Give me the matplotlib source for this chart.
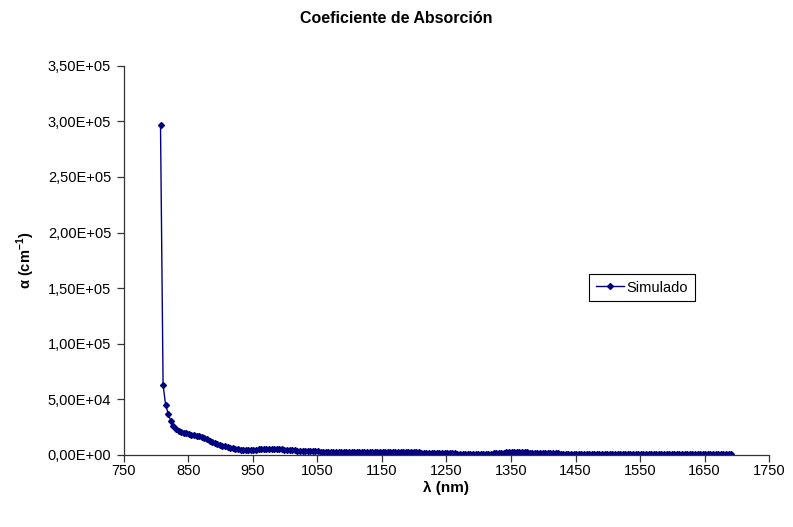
import numpy as np
import matplotlib
matplotlib.use('Agg')
import matplotlib.pyplot as plt
from matplotlib.ticker import FuncFormatter, MultipleLocator

plt.rcParams['font.family'] = ['Liberation Sans', 'DejaVu Sans']
plt.rcParams['mathtext.fontset'] = 'custom'
plt.rcParams['mathtext.rm'] = 'Liberation Sans'
plt.rcParams['mathtext.bf'] = 'Liberation Sans:bold'

# wavelength grid (nm), 4 nm steps
wavelength = np.arange(807, 1692, 4)

# absorption coefficient (cm^-1)
alpha = [
    297000, 63000, 44500, 37000, 30500, 26000, 23500, 21500, 20500, 19800,
    19200, 18700, 18200, 17700, 17200, 16700, 16100, 15000, 13800, 12500,
    11400, 10500, 9700, 8900, 8200, 7500, 6900, 6300, 5800, 5300,
    4900, 4500, 4200, 4000, 3900, 3900, 4100, 4600, 5100, 5300,
    5400, 5400, 5400, 5300, 5300, 5200, 5100, 4900, 4600, 4300,
    4100, 4000, 3900, 3800, 3700, 3600, 3500, 3400, 3300, 3200,
    3100, 3000, 2950,
    # 1059 - 1207
    2900, 2900, 2880, 2870, 2860, 2850, 2840, 2830, 2820, 2800,
    2790, 2780, 2770, 2760, 2750, 2740, 2730, 2720, 2700, 2690,
    2680, 2670, 2660, 2650, 2640, 2620, 2600, 2590, 2580, 2560,
    2550, 2530, 2510, 2500, 2480, 2460, 2430, 2400,
    # 1211 - 1263
    1350, 1340, 1330, 1320, 1310, 1300, 1300, 1290, 1280, 1270,
    1260, 1250, 1240, 1230,
    # 1267 - 1319
    420, 410, 400, 400, 390, 380, 380, 370, 370, 360,
    360, 350, 350, 340,
    # 1323 - 1423
    2050, 2060, 2060, 2070, 2070, 2080, 2080, 2080, 2090, 2090,
    2090, 2090, 2080, 2080, 2070, 2070, 2060, 2050, 2040, 2030,
    2020, 2010, 2000, 1990, 1970, 1950,
    # 1427 - 1691
    900, 890, 880, 880, 870, 870, 860, 860, 850, 850,
    850, 840, 840, 840, 830, 830, 830, 820, 820, 820,
    810, 810, 810, 800, 800, 800, 800, 790, 790, 790,
    780, 780, 780, 770, 770, 770, 760, 760, 760, 750,
    750, 750, 740, 740, 740, 730, 730, 730, 720, 720,
    720, 710, 710, 710, 700, 700, 700, 690, 690, 690,
    680, 680, 680, 670, 670, 670, 660,
]

fig = plt.figure(figsize=(7.93, 5.27), dpi=100)
ax = fig.add_axes([0.156, 0.137, 0.814, 0.738])

ax.plot(wavelength, alpha, color='#000080', linewidth=1, marker='D',
        markersize=3, label='Simulado')

ax.set_xlim(750, 1750)
ax.set_ylim(0, 350000)
ax.set_xticks(np.arange(750, 1751, 100))
ax.yaxis.set_major_locator(MultipleLocator(50000))
ax.yaxis.set_major_formatter(FuncFormatter(lambda v, p: f'{v:.2E}'.replace('.', ',')))

for s in ['top', 'right']:
    ax.spines[s].set_visible(False)
for s in ['left', 'bottom']:
    ax.spines[s].set_color('#333333')
    ax.spines[s].set_linewidth(0.9)
ax.tick_params(direction='out', length=5, width=0.9, color='#333333',
               labelsize=10.5, labelcolor='black', pad=4)
ax.tick_params(axis='x', pad=1.5)

ax.set_xlabel('λ (nm)', fontsize=11, fontweight='bold')
ax.set_ylabel(r'α (cm$^{\mathbf{-1}}$)', fontsize=10.5, fontweight='bold')
ax.xaxis.set_label_coords(0.5, -0.068)
ax.yaxis.set_label_coords(-0.135, 0.5)

fig.suptitle('Coeficiente de Absorción', x=0.5, y=0.979, fontsize=11.5,
             fontweight='bold')

leg = ax.legend(loc='center', bbox_to_anchor=(0.803, 0.43), fontsize=10.5,
                fancybox=False, edgecolor='black', handlelength=1.9,
                handletextpad=0.2, borderpad=0.45, framealpha=1)
leg.get_frame().set_linewidth(0.8)

fig.savefig('out.png', dpi=100)
